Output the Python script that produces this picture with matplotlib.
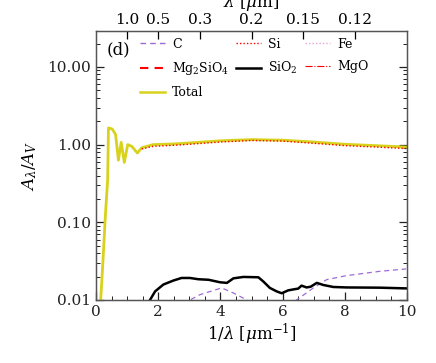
import numpy as np
import matplotlib
matplotlib.use('Agg')
import matplotlib.pyplot as plt
from matplotlib.lines import Line2D
from matplotlib.ticker import MultipleLocator, LogLocator, NullFormatter

plt.rcParams['font.family'] = 'DejaVu Serif'
plt.rcParams['mathtext.fontset'] = 'dejavuserif'

# total extinction (yellow)
x_total = [0.10, 0.15, 0.22, 0.30, 0.375, 0.40, 0.52, 0.63, 0.72, 0.81, 0.91, 1.02, 1.15, 1.33,
           1.47, 1.84, 2.5, 3.0, 4.0, 5.0, 6.0, 7.0, 8.0, 9.0, 9.97]
y_total = [0.006, 0.01, 0.03, 0.12, 0.355, 1.64, 1.59, 1.35, 0.63, 1.07, 0.59, 1.0, 0.95, 0.78,
           0.91, 1.0, 1.02, 1.05, 1.12, 1.16, 1.14, 1.08, 1.01, 0.97, 0.93]

# Si (red dotted), nearly on top of the total
x_si = [1.47, 1.84, 2.5, 3.0, 4.0, 5.0, 6.0, 7.0, 8.0, 9.0, 9.97]
y_si = [0.88, 0.95, 0.98, 1.01, 1.08, 1.13, 1.11, 1.04, 0.97, 0.93, 0.89]

# SiO2 (black solid)
x_sio2 = [1.60, 1.736, 1.90, 2.165, 2.49, 2.75, 3.02, 3.29, 3.62, 3.99, 4.21, 4.42, 4.74, 5.22,
          5.38, 5.59, 5.81, 5.97, 6.18, 6.40, 6.50, 6.61, 6.77, 6.90, 7.10, 7.31, 7.63, 8.06,
          9.13, 9.97]
y_sio2 = [0.008, 0.01, 0.0129, 0.0158, 0.0178, 0.0192, 0.0192, 0.0185, 0.0182, 0.0169, 0.0166,
          0.0190, 0.0198, 0.0196, 0.0173, 0.0143, 0.0129, 0.0122, 0.0133, 0.0138, 0.0140, 0.0153,
          0.0145, 0.0148, 0.0166, 0.0156, 0.0147, 0.0145, 0.0144, 0.0141]

# C (purple dashed)
x_c = [2.8, 3.02, 3.34, 4.04, 4.42, 4.85, 5.2, 6.1, 6.45, 6.99, 7.42, 8.06, 9.13, 9.97]
y_c = [0.009, 0.01, 0.0117, 0.0143, 0.0123, 0.01, 0.008, 0.008, 0.01, 0.0143, 0.0183, 0.0206,
       0.0234, 0.0251]

top_lam = [1.0, 0.5, 0.3, 0.2, 0.15, 0.12]
top_labels = ['1.0', '0.5', '0.3', '0.2', '0.15', '0.12']
y_ticks = [0.01, 0.1, 1.0, 10.0]
y_labels = ['0.01', '0.10', '1.00', '10.00']

yellow = '#d8d21c'
purple = '#9e6bd6'

fig = plt.figure(figsize=(4.36, 3.63), dpi=100)
ax = fig.add_axes([0.2202, 0.1736, 0.7133, 0.741])

ax.plot(x_c, y_c, color=purple, ls=(0, (4, 3)), lw=0.9)
ax.plot(x_sio2, y_sio2, color='black', lw=1.8)
ax.plot(x_total, y_total, color=yellow, lw=2.0)
ax.plot(x_si, y_si, color='red', ls=(0, (1, 1.5)), lw=1.0)

ax.set_yscale('log')
ax.set_xlim(0, 10)
ax.set_ylim(0.01, 29)
ax.set_yticks(y_ticks)
ax.set_yticklabels(y_labels)
ax.yaxis.set_minor_locator(LogLocator(base=10, subs=np.arange(2, 10)))
ax.yaxis.set_minor_formatter(NullFormatter())
ax.xaxis.set_major_locator(MultipleLocator(2))
ax.xaxis.set_minor_locator(MultipleLocator(0.5))

ax.tick_params(which='both', direction='in', right=True, labelsize=11, colors='#222222')
ax.tick_params(which='major', length=6, width=0.9)
ax.tick_params(which='minor', length=3, width=0.7)
ax.tick_params(axis='x', which='both', top=False)
for s in ax.spines.values():
    s.set_color('#555555')
    s.set_linewidth(1.0)

ax.set_xlabel(r'1/$\lambda$ [$\mu$m$^{-1}$]', fontsize=12, labelpad=2)
ax.set_ylabel(r'$A_\lambda/A_V$', fontsize=12, labelpad=6)

ax2 = ax.twiny()
ax2.set_xlim(0, 10)
ax2.set_xticks([1 / l for l in top_lam])
ax2.set_xticklabels(top_labels)
ax2.tick_params(direction='in', length=6, width=0.9, labelsize=11, pad=3)
ax2.set_xlabel(r'$\lambda$ [$\mu$m]', fontsize=12, labelpad=4)
for s in ax2.spines.values():
    s.set_color('#555555')

ax.text(0.035, 0.96, '(d)', transform=ax.transAxes, fontsize=12, va='top', ha='left')

handles = [
    Line2D([], [], color=purple, ls=(0, (4, 3)), lw=1.0),
    Line2D([], [], color='red', ls=(0, (4, 3)), lw=1.5),
    Line2D([], [], color=yellow, lw=1.8),
    Line2D([], [], color='red', ls=(0, (1, 1.5)), lw=1.0),
    Line2D([], [], color='black', lw=1.8),
    Line2D([], [], color='#e8a0d8', ls=(0, (1, 1.5)), lw=1.0),
    Line2D([], [], color='red', ls='-.', lw=0.8),
]
labels = ['C', r'Mg$_2$SiO$_4$', 'Total', 'Si', r'SiO$_2$', 'Fe', 'MgO']
ax.legend(handles, labels, ncol=3, loc='upper left', bbox_to_anchor=(0.1415, 0.975), frameon=False,
          fontsize=9, handlelength=2.0, handletextpad=0.55, columnspacing=0.6, labelspacing=0.75,
          borderaxespad=0.0, borderpad=0.0)

fig.savefig('out.png', dpi=100)
